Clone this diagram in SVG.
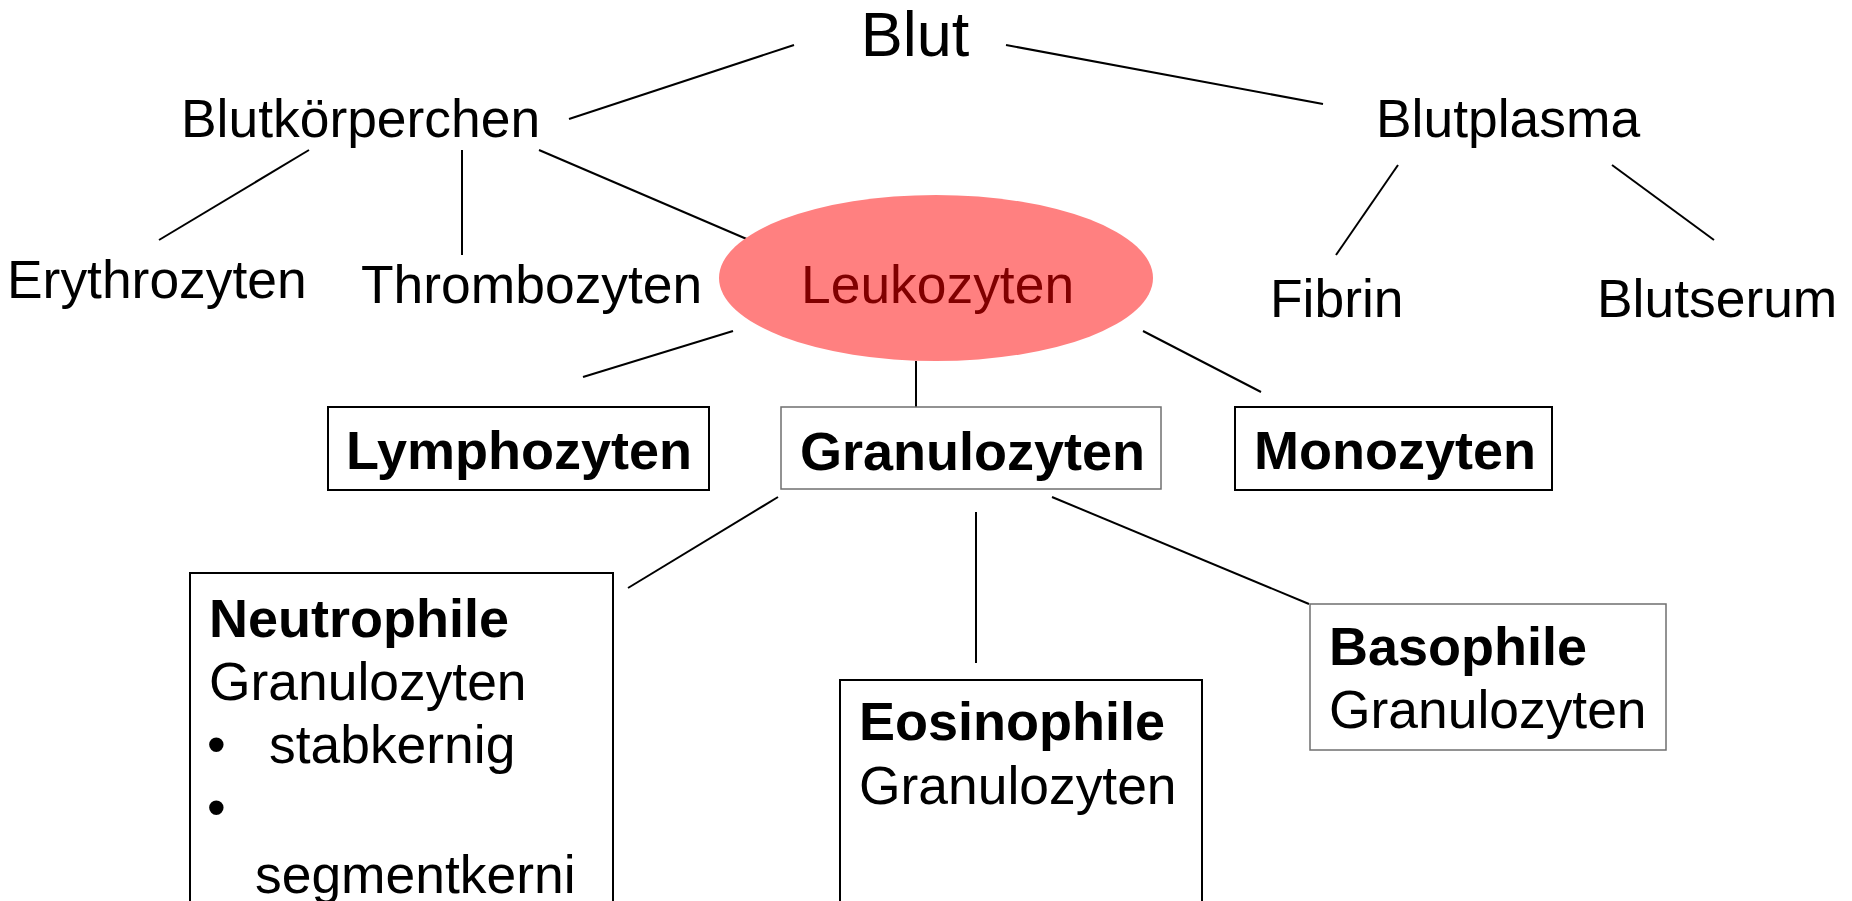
<svg xmlns="http://www.w3.org/2000/svg" width="1852" height="901" viewBox="0 0 1852 901">
<style>
text{font-family:"Liberation Sans",Arial,sans-serif;font-size:53.4px;fill:#000}
.b{font-weight:bold;font-size:54px}
.c line{stroke:#000;stroke-width:2}
.box{fill:#fff;stroke:#000;stroke-width:2}
.gbox{fill:#fff;stroke:#6f6f6f;stroke-width:1.5}
</style>
<rect width="1852" height="901" fill="#fff"/>
<g class="c" id="connectors">
<line x1="794" y1="45" x2="569" y2="119"/>
<line x1="1006" y1="45" x2="1323" y2="104"/>
<line x1="309" y1="150" x2="159" y2="240"/>
<line x1="462" y1="150" x2="462" y2="255"/>
<line x1="539" y1="150" x2="749" y2="240"/>
<line x1="1398" y1="165" x2="1336" y2="255"/>
<line x1="1612" y1="165" x2="1714" y2="240"/>
<line x1="733" y1="331" x2="583" y2="377"/>
<line x1="916" y1="361" x2="916" y2="407"/>
<line x1="1143" y1="331" x2="1261" y2="392"/>
<line x1="778" y1="497" x2="628" y2="588"/>
<line x1="976" y1="512" x2="976" y2="663"/>
<line x1="1052" y1="497" x2="1309" y2="604"/>
</g>
<g id="blut"><text x="915" y="56" text-anchor="middle" style="font-size:63px">Blut</text></g>
<g id="blutkoerperchen"><text x="181" y="137">Blutkörperchen</text></g>
<g id="blutplasma"><text x="1376" y="137">Blutplasma</text></g>
<g id="erythrozyten"><text x="7" y="298">Erythrozyten</text></g>
<g id="thrombozyten"><text x="361" y="303">Thrombozyten</text></g>
<g id="leukozyten">
<ellipse cx="936" cy="278" rx="217" ry="83" fill="#ff8080"/>
<text x="801" y="303" style="fill:#800000">Leukozyten</text>
</g>
<g id="fibrin"><text x="1270" y="317">Fibrin</text></g>
<g id="blutserum"><text x="1597" y="317">Blutserum</text></g>
<g id="lymphozyten"><rect class="box" x="328" y="407" width="381" height="83"/><text class="b" x="346" y="469">Lymphozyten</text></g>
<g id="granulozyten"><rect class="gbox" x="781" y="407" width="380" height="82"/><text class="b" x="800" y="470">Granulozyten</text></g>
<g id="monozyten"><rect class="box" x="1235" y="407" width="317" height="83"/><text class="b" x="1254" y="469">Monozyten</text></g>
<g id="neutrophile">
<rect class="box" x="190" y="573" width="423" height="340"/>
<text class="b" x="209" y="637">Neutrophile</text>
<text x="209" y="700">Granulozyten</text>
<text x="207" y="763">•</text><text x="269" y="763">stabkernig</text>
<text x="207" y="826">•</text>
<text x="255" y="893">segmentkerni</text>
</g>
<g id="eosinophile">
<rect class="box" x="840" y="680" width="362" height="240"/>
<text class="b" x="859" y="740">Eosinophile</text>
<text x="859" y="804">Granulozyten</text>
</g>
<g id="basophile">
<rect class="gbox" x="1310" y="604" width="356" height="146"/>
<text class="b" x="1329" y="665">Basophile</text>
<text x="1329" y="728">Granulozyten</text>
</g>
</svg>
